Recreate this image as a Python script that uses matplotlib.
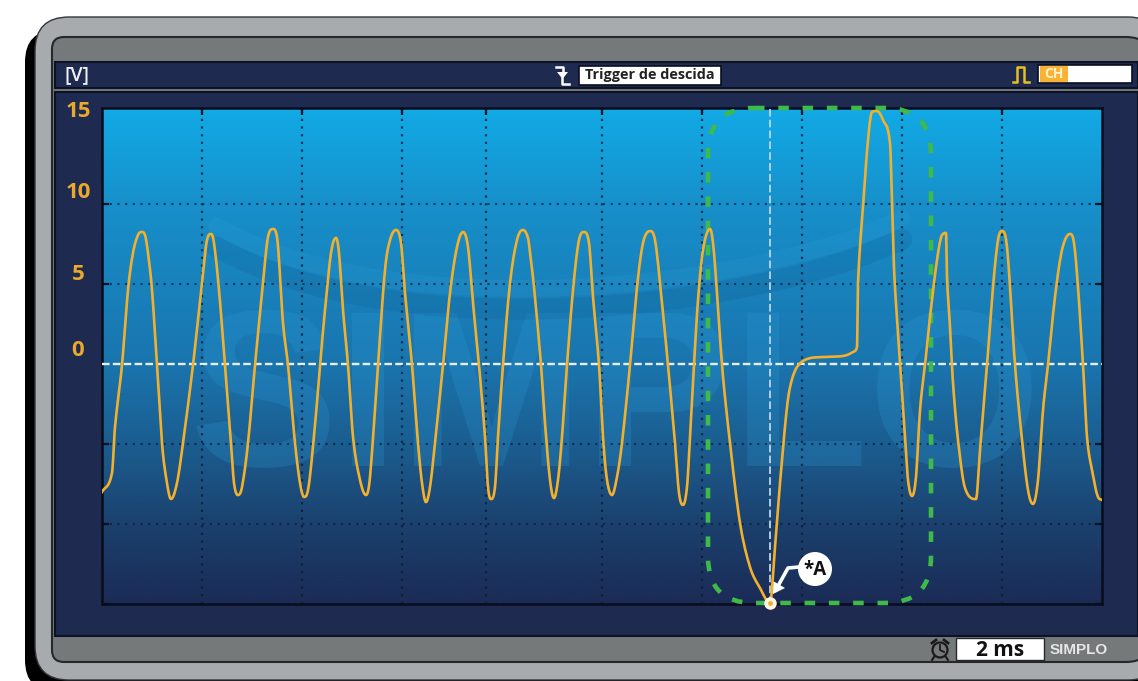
import numpy as np
import matplotlib
matplotlib.use("Agg")
import matplotlib.pyplot as plt
from matplotlib.patches import FancyBboxPatch, Rectangle, Circle, Polygon, PathPatch
from matplotlib.path import Path
from matplotlib.transforms import Affine2D
from matplotlib.colors import LinearSegmentedColormap

# ---- data: time (ms) / voltage (V)
time_ms = [0.0,0.20,0.26,0.40,0.52,0.62,0.72,0.80,0.86,0.92,1.00,1.10,1.20,1.28,1.38,1.50,1.62,1.82,2.00,2.10,2.18,2.24,2.34,2.46,2.58,2.64,2.72,2.80,2.92,3.06,3.22,3.32,3.42,3.50,3.62,3.72,3.86,3.96,4.04,4.12,4.26,4.36,4.46,4.58,4.68,4.74,4.82,4.92,5.02,5.16,5.28,5.36,5.52,5.66,5.76,5.88,5.98,6.06,6.20,6.32,6.40,6.48,6.56,6.66,6.82,6.96,7.10,7.22,7.32,7.42,7.54,7.66,7.72,7.78,7.86,7.92,8.02,8.16,8.30,8.42,8.52,8.56,8.64,8.78,8.86,8.96,9.04,9.12,9.20,9.30,9.42,9.54,9.64,9.74,9.82,9.94,10.02,10.10,10.20,10.30,10.40,10.56,10.70,10.82,10.96,11.06,11.20,11.32,11.46,11.54,11.62,11.70,11.76,11.84,11.92,12.02,12.16,12.24,12.40,12.56,12.76,12.96,13.16,13.36,13.46,13.56,13.70,13.78,13.90,14.10,14.42,14.82,15.02,15.10,15.12,15.22,15.32,15.40,15.50,15.62,15.76,15.80,15.84,15.92,15.98,16.06,16.12,16.20,16.28,16.36,16.46,16.56,16.70,16.80,16.88,16.90,16.96,17.02,17.12,17.26,17.48,17.56,17.70,17.82,17.92,18.00,18.10,18.26,18.40,18.52,18.62,18.72,18.82,18.92,19.06,19.20,19.36,19.44,19.52,19.62,19.70,19.80,19.92,20.0]
volts = [-8.0,-6.81,-3.94,-0.06,4.63,6.94,8.06,8.25,8.06,6.94,4.63,-0.06,-4.94,-7.06,-8.44,-7.44,-4.94,-0.06,5.06,7.75,8.13,7.56,4.63,-0.06,-4.94,-7.44,-8.19,-7.69,-4.94,-0.06,5.06,7.94,8.44,7.94,2.56,-0.06,-4.94,-7.44,-8.31,-7.88,-3.81,-0.06,3.38,6.94,7.88,6.94,3.38,-0.06,-4.56,-7.25,-8.19,-7.06,-0.06,5.88,7.75,8.38,7.56,4.44,-0.06,-4.94,-7.44,-8.63,-7.69,-4.94,-0.06,4.44,7.31,8.25,7.31,3.81,-0.06,-4.56,-7.69,-8.44,-7.69,-4.56,-0.06,5.06,7.75,8.38,7.88,6.94,4.81,-0.06,-3.69,-7.25,-8.38,-7.25,-4.56,-0.06,4.63,7.75,8.25,7.56,4.19,-0.06,-4.56,-7.25,-8.19,-7.06,-4.94,-0.06,4.81,7.56,8.31,7.75,3.81,-0.06,-4.94,-8.06,-8.81,-7.69,-4.56,-0.06,4.0,7.13,8.44,6.94,-0.06,-4.94,-9.94,-12.69,-14.0,-14.94,-11.44,-7.44,-2.69,-1.19,-0.19,0.31,0.44,0.5,0.75,1.06,5.06,9.81,14.0,15.75,15.81,15.25,13.81,10.2,6.0,1.9,-0.8,-4.56,-7.25,-8.25,-7.06,-2.88,-0.06,2.94,6.5,8.06,8.19,5.44,2.31,-1.19,-4.75,-7.75,-8.44,-5.38,-0.06,4.81,7.75,8.31,7.31,-0.06,-4.75,-7.88,-8.75,-7.25,-2.88,-0.06,4.19,7.13,8.13,7.56,4.81,-0.06,-4.56,-6.63,-8.31,-8.5]
grid_times = [2, 4, 6, 7.68, 10, 12, 14, 16, 18]
grid_volts = [-15, -10, -5, 5, 10]
y_tick_labels = ["15", "10", "5", "0"]
y_label_volts = [15.93, 10.86, 5.74, 0.98]
trigger_time = 13.36
trigger_volt = -14.94
trigger_label = "Trigger de descida"
time_base = "2 ms"

W, H = 1138, 681
plt.rcParams['font.family'] = ['Open Sans', 'DejaVu Sans']
fig = plt.figure(figsize=(W/100, H/100), dpi=100, facecolor='white')
NAVY = '#1e2a4f'
OC = '#f2b02c'


def smooth_trace(x, y, per_seg=8):
    """Cubic through every reading: flat at extrema, limited so it cannot overshoot."""
    x, y = np.asarray(x, float), np.asarray(y, float)
    h = np.diff(x); d = np.diff(y) / h
    m = np.zeros_like(x)
    for i in range(1, len(x) - 1):
        if d[i-1] * d[i] > 0:
            c = (y[i+1] - y[i-1]) / (x[i+1] - x[i-1])
            m[i] = np.sign(c) * min(abs(c), 3*abs(d[i-1]), 3*abs(d[i]))
    m[0], m[-1] = d[0], d[-1]
    xs, ys = [], []
    for i in range(len(h)):
        s = np.linspace(0, 1, per_seg, endpoint=False)
        xs.append(x[i] + s*h[i])
        ys.append((2*s**3 - 3*s**2 + 1)*y[i] + (s**3 - 2*s**2 + s)*h[i]*m[i]
                  + (-2*s**3 + 3*s**2)*y[i+1] + (s**3 - s**2)*h[i]*m[i+1])
    return np.r_[np.concatenate(xs), x[-1]], np.r_[np.concatenate(ys), y[-1]]


def px_axes(z):
    a = fig.add_axes([0, 0, 1, 1], zorder=z)
    a.set_xlim(0, W); a.set_ylim(H, 0); a.axis('off'); a.patch.set_alpha(0)
    return a


def rrect(a, x0, y0, x1, y1, r, **kw):
    p = FancyBboxPatch((x0 + r, y0 + r), x1 - x0 - 2*r, y1 - y0 - 2*r,
                       boxstyle=f"round,pad={r},rounding_size={r}", **kw)
    a.add_patch(p)
    return p


# ---- monitor frame
bg = px_axes(0)
rrect(bg, 25, 30, 1180, 692, 32, fc='black', ec='none')
rrect(bg, 35, 17, 1162, 680, 34, fc='#a8abad', ec='#33363a', lw=1.0)
# inner panel: small corners on the left, wide ones on the right
lx, rx, ty, by, rl, rr = 52, 1152, 37, 662, 12, 26
panel = Path([(lx, ty+rl), (lx, ty), (lx+rl, ty), (rx-rr, ty), (rx, ty), (rx, ty+rr),
              (rx, by-rr), (rx, by), (rx-rr, by), (lx+rl, by), (lx, by), (lx, by-rl), (lx, ty+rl)],
             [Path.MOVETO, Path.CURVE3, Path.CURVE3, Path.LINETO, Path.CURVE3, Path.CURVE3,
              Path.LINETO, Path.CURVE3, Path.CURVE3, Path.LINETO, Path.CURVE3, Path.CURVE3, Path.CLOSEPOLY])
bg.add_patch(PathPatch(panel, fc='#76797a', ec='#26292c', lw=1.5))
bg.add_patch(Rectangle((55, 62), W-55, 26, fc=NAVY, ec='#0c1226', lw=1.5))
bg.add_patch(Rectangle((55, 92), W-55, 544, fc=NAVY, ec='#0c1226', lw=1.5))

# ---- screen
pos = [102/W, 1-604/H, 1000/W, 496/H]
ax = fig.add_axes(pos, zorder=1)
ax.set_xlim(0, 20); ax.set_ylim(-15, 16)
cmap = LinearSegmentedColormap.from_list('scr', [
    (0.00, '#12aae5'), (0.20, '#178fca'), (0.52, '#1a74ad'),
    (0.70, '#1b5a8c'), (0.85, '#1b3f6c'), (1.00, '#1b2b56')])
ax.imshow(np.linspace(0, 1, 256)[:, None], aspect='auto', cmap=cmap,
          extent=[0, 20, -15, 16], zorder=0)
# watermark: logo lettering and swoosh
ax.text(10.28, -2.75, "SIMPLO", fontsize=160, fontweight='bold', family=['Liberation Sans'],
        color='#2f9fdc', alpha=0.22, ha='center', va='center', zorder=1)
swoosh = Path([(2.3, 7.3), (6.0, 0.9), (13.0, 3.4), (16.0, 7.8)],
              [Path.MOVETO, Path.CURVE4, Path.CURVE4, Path.CURVE4])
ax.add_patch(PathPatch(swoosh, fc='none', ec='#0f4a7c', lw=15, alpha=0.15, zorder=1, capstyle='round'))
ax.add_patch(PathPatch(swoosh.transformed(Affine2D().translate(0, 1.3)),
                       fc='none', ec='#3aa8e2', lw=12, alpha=0.14, zorder=1, capstyle='round'))

for t in grid_times:
    ax.axvline(t, color='#0b1c33', lw=1.6, ls=(0, (1, 2.45)), alpha=0.8, zorder=2)
for v in grid_volts:
    ax.axhline(v, color='#0b1c33', lw=1.5, ls=(0, (1, 2.7)), alpha=0.75, zorder=2)
ax.axhline(0, color='#e8eef0', lw=1.7, ls=(0, (3.2, 1.4)), zorder=3)
ax.axvline(trigger_time, color='#bcd6e6', lw=1.3, ls=(0, (4.2, 1.8)), zorder=3)
ax.set_xticks(grid_times); ax.set_yticks(grid_volts)
ax.set_xticklabels([]); ax.set_yticklabels([])
ax.tick_params(axis='both', direction='in', length=5, width=1.6, color='#080c1c',
               top=True, bottom=False, left=True, right=True)
for s in ax.spines.values():
    s.set_color('#080c1c'); s.set_linewidth(1.8)

# ---- overlay
ov = px_axes(2)
rrect(ov, 708, 108, 931, 603, 46, fc='none', ec='#3fb94a', lw=3.3, ls=(0, (2.3, 3.0)))

for lab, v in zip(y_tick_labels, y_label_volts):
    yy = 364 - v * 16
    ov.text(78, yy + 2.5, lab, color='#eaa82c', fontsize=16, fontweight='bold', ha='center', va='center')
ov.text(77, 75, "[V]", color='#eef0f4', fontsize=14, fontweight='semibold', ha='center', va='center')

# trigger icon + box
ov.plot([556, 563, 563], [67, 67, 73], color='white', lw=1.8)
ov.add_patch(Polygon([[557, 72], [568, 72], [562.5, 79]], fc='white', ec='none'))
ov.plot([562.5, 562.5, 569], [77, 84, 84], color='white', lw=1.8)
ov.add_patch(Rectangle((579, 66), 142, 19, fc='white', ec='#0a0e1e', lw=1.2))
ov.text(650, 75.5, trigger_label, color='#222', fontsize=10.4, fontweight='bold', ha='center', va='center')

# channel icon + box
ov.plot([1013, 1017, 1017, 1024, 1024, 1029], [82, 82, 67, 67, 82, 82], color='#e8c020', lw=1.8)
ov.add_patch(Rectangle((1038, 65), 94, 18, fc='white', ec='#0a0e1e', lw=1.2))
ov.add_patch(Rectangle((1040, 66), 28, 16, fc='#f9b233', ec='none'))
ov.text(1054, 74.5, "CH", color='#fff0c8', fontsize=10, fontweight='bold', ha='center', va='center')

# callout
ov.plot([799, 788, 778], [567, 568, 586], color='white', lw=2.6, solid_joinstyle='round')
ov.add_patch(Polygon([[773, 594], [773, 581], [785, 588]], fc='white', ec='none'))
ov.add_patch(Circle((815, 569), 17, fc='white', ec='none'))
ov.text(815, 570, "*A", color='#111', fontsize=13.5, fontweight='bold', ha='center', va='center')

# bottom bar
ov.add_patch(Circle((940, 650), 7.5, fc='none', ec='#1a1a1a', lw=1.6))
ov.plot([940, 940, 944], [645, 650, 652], color='#1a1a1a', lw=1.3)
ov.plot([932, 936], [643, 640], color='#1a1a1a', lw=2)
ov.plot([948, 944], [643, 640], color='#1a1a1a', lw=2)
ov.plot([934, 932], [657, 660], color='#1a1a1a', lw=1.5)
ov.plot([946, 948], [657, 660], color='#1a1a1a', lw=1.5)
ov.add_patch(Rectangle((956, 638), 88, 22, fc='white', ec='#26292c', lw=1))
ov.text(1000, 650, time_base, color='#111', fontsize=15, fontweight='bold', ha='center', va='center')
ov.text(1079, 650, "SIMPLO", color='#e4e6e7', fontsize=11, fontweight='bold',
        family=['Liberation Sans'], ha='center', va='center')

# ---- trace on top of everything, sharing the screen's scales
top = fig.add_axes(pos, zorder=3)
top.set_xlim(0, 20); top.set_ylim(-15, 16); top.axis('off'); top.patch.set_alpha(0)
xs, ys = smooth_trace(time_ms, volts)
top.plot(xs, ys, color=OC, lw=1.9, solid_joinstyle='round')
top.plot([trigger_time], [trigger_volt], 'o', ms=9, color='#fff7e6', mec='none', clip_on=False, zorder=3)
top.plot([trigger_time], [trigger_volt], 'o', ms=3.5, color=OC, mec='none', clip_on=False, zorder=4)

fig.savefig('out.png', dpi=100)
